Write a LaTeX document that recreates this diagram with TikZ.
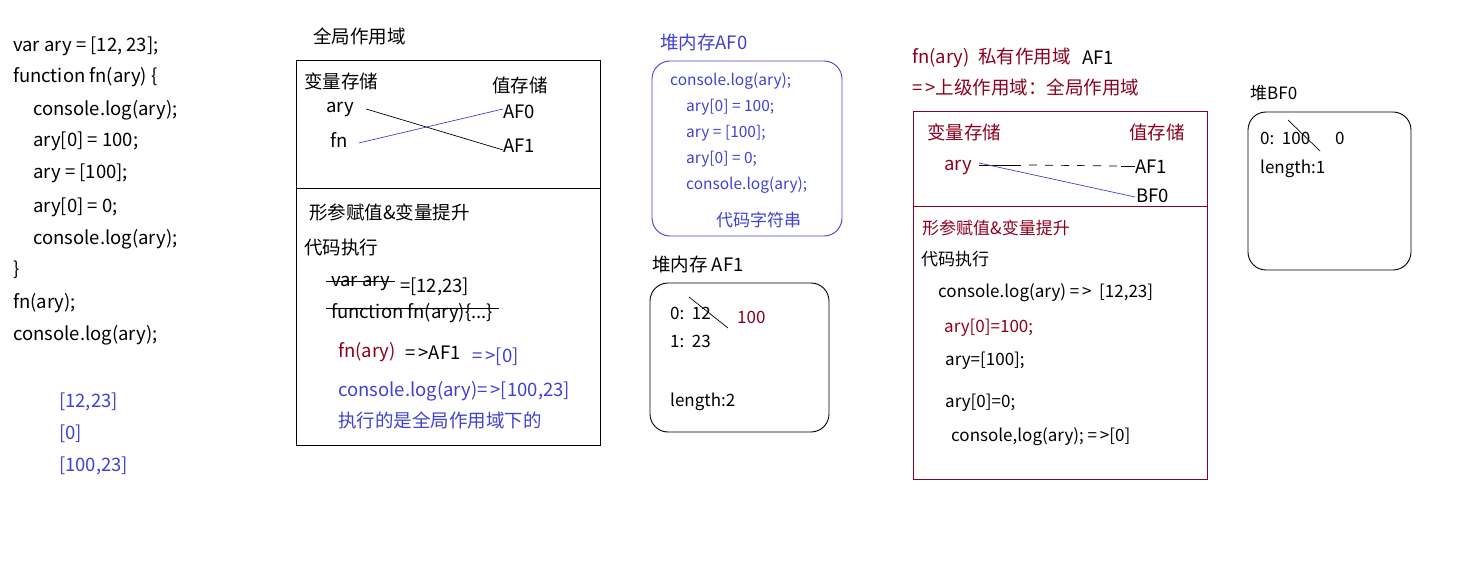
\documentclass[tikz,border=0pt]{standalone}
\usepackage{fontspec}
\setmainfont{Noto Sans CJK SC}
\usetikzlibrary{calc}
\definecolor{bl}{RGB}{64,64,210}
\definecolor{dr}{RGB}{140,0,30}
\begin{document}
\begin{tikzpicture}[x=1pt,y=-1pt,
  t/.style={inner sep=0pt, anchor=west, text height=16pt, text depth=2pt, font=\fontsize{18.5}{20}\selectfont},
  ts/.style={t, font=\fontsize{15.5}{18}\selectfont},
  tm/.style={t, font=\fontsize{17}{19}\selectfont},
  ln/.style={line width=0.7pt},
  heap/.style={line width=0.9pt, rounded corners=18pt}]
\useasboundingbox (0,0) rectangle (1464,580);

% left code
\node[t] (c1) at (13,45) {var ary = [12, 23];};
\node[t] (c2) at (13,76) {function fn(ary) \{};
\node[t] (c3) at (33,109) {console.log(ary);};
\node[t] (c4) at (33,140) {ary[0] = 100;};
\node[t] (c5) at (33,172) {ary = [100];};
\node[t] (c6) at (33,205) {ary[0] = 0;};
\node[t] (c7) at (33,237) {console.log(ary);};
\node[t] (c8) at (13,268) {\}};
\node[t] (c9) at (13,301) {fn(ary);};
\node[t] (c10) at (13,333) {console.log(ary);};
\node[t, bl] (r1) at (59,400) {[12,23]};
\node[t, bl] (r2) at (59,432) {[0]};
\node[t, bl] (r3) at (59,464) {[100,23]};

% global scope
\node[t] (gt) at (313,37) {全局作用域};
\draw[ln] (296,60) rectangle (600,445);
\draw[ln] (296,188) -- (600,188);
\node[t] (gv) at (304,82) {变量存储};
\node[t] (gz) at (492,86) {值存储};
\node[t] (gary) at (326,106) {ary};
\node[t] (gfn) at (330,141) {fn};
\node[t] (gaf0) at (503,112) {AF0};
\node[t] (gaf1) at (503,146) {AF1};
\draw[ln] ($(gary.east)+(12,3)$) -- ($(gaf1.west)+(0,4)$);
\draw[ln, bl] ($(gfn.east)+(11,2)$) -- ($(gaf0.west)+(0,-3)$);
\node[t] (gs) at (309,213) {形参赋值\&变量提升};
\node[t] (ge) at (304,247) {代码执行};
\node[t] (gvar) at (331,279) {var ary};
\draw[ln] ($(gvar.west)+(-5,2)$) -- ($(gvar.east)+(5,2)$);
\node[t] (geq) at (400,285) {=[12,23]};
\node[t] (gfun) at (331,311) {function fn(ary)\{...\}};
\draw[ln] ($(gfun.west)+(-5,-3)$) -- ($(gfun.east)+(6,-3)$);
\node[t, dr] (gcall) at (338,350) {fn(ary)};
\node[t] (gaf) at (405,352) {=\,>AF1};
\node[t, bl] (gz0) at (472,355) {=\,>[0]};
\node[t, bl] (glog) at (338,389) {console.log(ary)=\,>[100,23]};
\node[t, bl] (gnote) at (338,420) {执行的是全局作用域下的};

% heap AF0
\node[t, bl] (ht0) at (660,43) {堆内存AF0};
\draw[heap, bl] (652,61) rectangle (842,236);
\node[ts, bl] (h1) at (670,79) {console.log(ary);};
\node[ts, bl] (h2) at (686,105) {ary[0] = 100;};
\node[ts, bl] (h3) at (686,131) {ary = [100];};
\node[ts, bl] (h4) at (686,157) {ary[0] = 0;};
\node[ts, bl] (h5) at (686,183) {console.log(ary);};
\node[tm, bl] (h6) at (716,219) {代码字符串};

% heap AF1
\node[t] (ht1) at (652,264) {堆内存 AF1};
\draw[heap] (650,283) rectangle (829,432);
\node[tm] (a0) at (670,312) {0:\ \ 12};
\draw[ln] ($(a0.west)+(19,-15)$) -- ($(a0.west)+(58,16)$);
\node[tm, dr] (a100) at (737,316) {100};
\node[tm] (a1) at (670,340) {1:\ \ 23};
\node[tm] (alen) at (670,399) {length:2};

% fn private scope
\node[t, dr] (ft) at (912,57) {fn(ary)\ \ 私有作用域};
\node[t] (faf) at (1082,58) {AF1};
\node[t, dr] (fu) at (912,88) {=\,>上级作用域：全局作用域};
\draw[ln, dr] (913,111) rectangle (1207,479);
\draw[ln, dr] (913,206) -- (1207,206);
\node[t, dr] (fv) at (927,133) {变量存储};
\node[t, dr] (fz) at (1129,133) {值存储};
\node[t, dr] (fary) at (944,164) {ary};
\node[t] (faf1) at (1135,167) {AF1};
\node[t] (fbf0) at (1136,196) {BF0};
\coordinate (fd1) at ($(fary.east)+(7,1)$);
\coordinate (fd2) at ($(fd1)+(42,0)$);
\coordinate (fd3) at ($(faf1.west)+(-14,-1)$);
\draw[ln] (fd1) -- (fd2);
\draw[ln, dash pattern=on 8pt off 8pt] ($(fd2)+(8,0)$) -- ($(fd3)+(-4,0)$);
\draw[ln] (fd3) -- ($(faf1.west)+(0,-1)$);
\draw[ln, bl] ($(fary.east)+(7,-1)$) -- ($(fbf0.west)+(-1,1)$);
\node[tm, dr] (fs) at (922,227) {形参赋值\&变量提升};
\node[tm] (fe) at (921,258) {代码执行};
\node[tm] (fl1) at (938,290) {console.log(ary) =\,> \ [12,23]};
\node[tm, dr] (fl2) at (944,325) {ary[0]=100;};
\node[tm] (fl3) at (945,358) {ary=[100];};
\node[tm] (fl4) at (945,400) {ary[0]=0;};
\node[tm] (fl5) at (951,434) {console,log(ary); =\,>[0]};

% heap BF0
\node[tm] (bt) at (1250,93) {堆BF0};
\draw[heap] (1248,112) rectangle (1411,270);
\node[tm] (b0) at (1260,138) {0:\ \ 100};
\node[tm] (bz) at (1335,138) {0};
\draw[ln] ($(b0.west)+(28,-18)$) -- ($(b0.west)+(60,13)$);
\node[tm] (blen) at (1260,167) {length:1};
\end{tikzpicture}
\end{document}
